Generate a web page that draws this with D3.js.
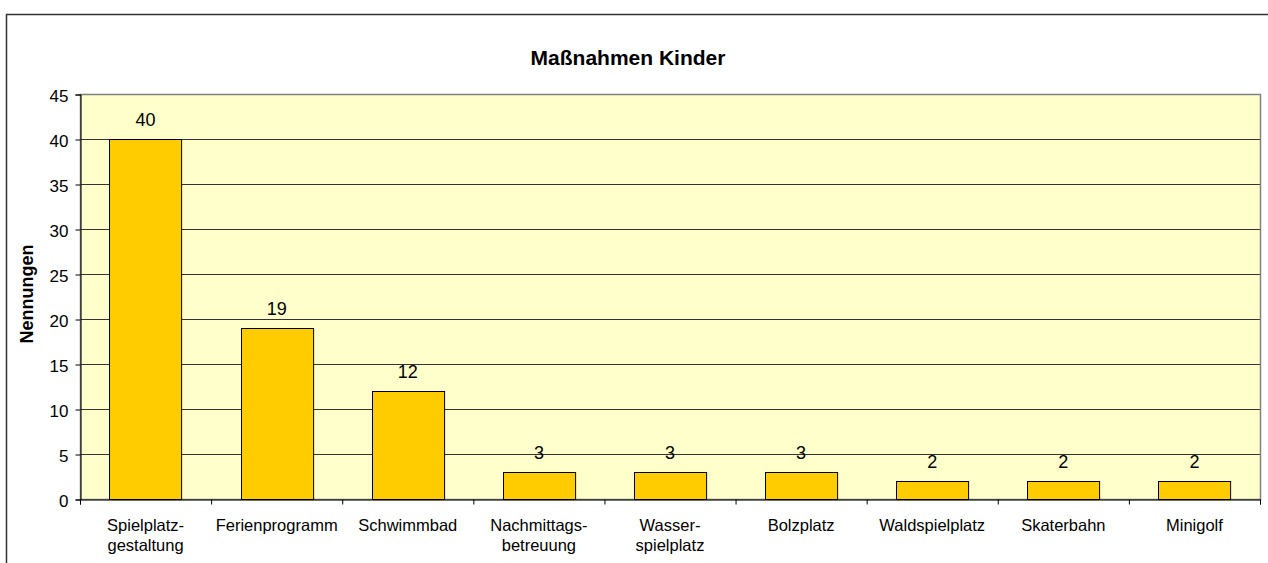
<!DOCTYPE html>
<html>
<head>
<meta charset="utf-8">
<script src="https://cdn.jsdelivr.net/npm/d3@7"></script>
<style>
body { margin: 0; background: #fff; }
text { font-family: "Liberation Sans", Arial, sans-serif; }
</style>
</head>
<body>
<script>
var categories = [["Spielplatz-", "gestaltung"], ["Ferienprogramm"], ["Schwimmbad"],
    ["Nachmittags-", "betreuung"], ["Wasser-", "spielplatz"], ["Bolzplatz"],
    ["Waldspielplatz"], ["Skaterbahn"], ["Minigolf"]];
var values = [40, 19, 12, 3, 3, 3, 2, 2, 2];
var yTicks = [0, 5, 10, 15, 20, 25, 30, 35, 40, 45];

var W = 1268, H = 563;
var plotL = 80, plotR = 1260, plotT = 94, plotB = 499;

var svg = d3.select("body").append("svg")
    .attr("width", W).attr("height", H);

// outer frame
svg.append("rect")
    .attr("x", 6.5).attr("y", 14.5).attr("width", 1280).attr("height", 600)
    .attr("fill", "#fff").attr("stroke", "#333").attr("stroke-width", 1.5);

var x = d3.scaleBand().domain(d3.range(categories.length)).range([plotL, plotR]).paddingInner(0.45).paddingOuter(0.225);
var xb = d3.scaleBand().domain(d3.range(categories.length)).range([plotL, plotR]);
var y = d3.scaleLinear().domain([0, 45]).range([plotB, plotT]);

svg.append("rect")
    .attr("x", plotL).attr("y", plotT).attr("width", plotR - plotL).attr("height", plotB - plotT)
    .attr("fill", "#FFFFCC");

svg.append("g").selectAll("line")
    .data(yTicks.slice(1, -1))
    .enter().append("line")
    .attr("x1", plotL).attr("x2", plotR)
    .attr("y1", function (d) { return Math.round(y(d)) + 0.5; })
    .attr("y2", function (d) { return Math.round(y(d)) + 0.5; })
    .attr("stroke", "#333").attr("stroke-width", 1);

svg.append("rect")
    .attr("x", plotL + 0.5).attr("y", plotT + 0.5).attr("width", plotR - plotL).attr("height", plotB - plotT)
    .attr("fill", "none").attr("stroke", "#808080").attr("stroke-width", 1.5);

svg.append("g").selectAll("rect")
    .data(values)
    .enter().append("rect")
    .attr("x", function (d, i) { return Math.round(x(i)) + 0.5; })
    .attr("y", function (d) { return Math.round(y(d)) + 0.5; })
    .attr("width", x.bandwidth())
    .attr("height", function (d) { return plotB - Math.round(y(d)); })
    .attr("fill", "#FFCC00").attr("stroke", "#000").attr("stroke-width", 1);

svg.append("g").selectAll("text")
    .data(values)
    .enter().append("text")
    .attr("x", function (d, i) { return x(i) + x.bandwidth() / 2; })
    .attr("y", function (d) { return y(d) - 13; })
    .attr("text-anchor", "middle")
    .style("font-size", "18px")
    .text(function (d) { return d; });

// y axis
var yAxis = d3.axisLeft(y).tickValues(yTicks).tickSize(5).tickPadding(7);
var gy = svg.append("g").attr("transform", "translate(" + (plotL + 0.5) + ",0.5)").call(yAxis);
gy.select(".domain").attr("stroke", "#000");
gy.selectAll("line").attr("stroke", "#000");
gy.selectAll("text").style("font-size", "17px").attr("fill", "#000").attr("dy", "0.4em");

// x axis
var xAxis = d3.axisBottom(d3.scaleLinear().domain([0, categories.length]).range([plotL, plotR]))
    .tickValues(d3.range(categories.length + 1)).tickSize(5).tickFormat("");
var gx = svg.append("g").attr("transform", "translate(0," + (plotB + 0.5) + ")").call(xAxis);
gx.select(".domain").attr("stroke", "#000");
gx.selectAll("line").attr("stroke", "#000");

var labels = svg.append("g").selectAll("text")
    .data(categories)
    .enter().append("text")
    .attr("text-anchor", "middle")
    .attr("x", function (d, i) { return xb(i) + xb.bandwidth() / 2; })
    .attr("y", 531)
    .style("font-size", "16.5px");
labels.selectAll("tspan")
    .data(function (d) { return d; })
    .enter().append("tspan")
    .attr("x", function () { return d3.select(this.parentNode).attr("x"); })
    .attr("dy", function (d, j) { return j === 0 ? 0 : 20; })
    .text(function (d) { return d; });

svg.append("text")
    .attr("x", 628).attr("y", 65)
    .attr("text-anchor", "middle")
    .style("font-size", "21px").style("font-weight", "bold")
    .text("Maßnahmen Kinder");

svg.append("text")
    .attr("transform", "translate(33,294) rotate(-90)")
    .attr("text-anchor", "middle")
    .style("font-size", "18px").style("font-weight", "bold")
    .text("Nennungen");
</script>
</body>
</html>
